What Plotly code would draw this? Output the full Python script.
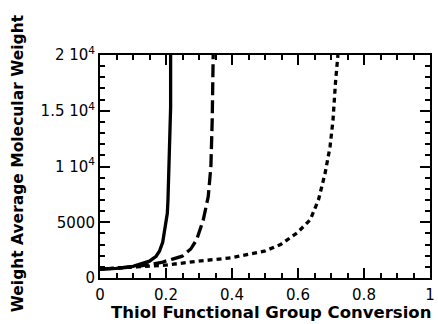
import plotly.graph_objects as go

solid_x = [0.0, 0.05, 0.1, 0.13, 0.15, 0.17, 0.18, 0.19, 0.199, 0.204, 0.206, 0.208, 0.209, 0.211, 0.214, 0.214]
solid_y = [800, 860, 1050, 1300, 1510, 1950, 2400, 3200, 4630, 5800, 7000, 8700, 10560, 12800, 15300, 20000]

long_x = [0.0, 0.05, 0.1, 0.15, 0.19, 0.22, 0.249, 0.275, 0.293, 0.313, 0.328, 0.336, 0.340, 0.343]
long_y = [800, 860, 980, 1200, 1430, 1700, 1960, 2600, 3440, 5220, 7300, 9970, 14130, 20000]

short_x = [0.0, 0.1, 0.199, 0.299, 0.397, 0.498, 0.547, 0.597, 0.637, 0.662, 0.682, 0.697, 0.706, 0.714, 0.721]
short_y = [800, 1000, 1160, 1510, 1810, 2400, 3000, 4040, 5220, 7000, 9380, 11750, 14130, 17700, 20000]

y_tickvals = [0, 5000, 10000, 15000, 20000]
y_ticktext = ["0", "5000", "1 10<sup>4</sup>", "1.5 10<sup>4</sup>", "2 10<sup>4</sup>"]
x_tickvals = [0, 0.2, 0.4, 0.6, 0.8, 1.0]
x_ticktext = ["0", "0.2", "0.4", "0.6", "0.8", "1"]
x_title = "Thiol Functional Group Conversion"
y_title = "Weight Average Molecular Weight"

fig = go.Figure()
fig.add_trace(go.Scatter(x=solid_x, y=solid_y, mode="lines",
                         line=dict(color="black", width=3.3, dash="solid")))
fig.add_trace(go.Scatter(x=long_x, y=long_y, mode="lines",
                         line=dict(color="black", width=3.3, dash="13px,5px")))
fig.add_trace(go.Scatter(x=short_x, y=short_y, mode="lines",
                         line=dict(color="black", width=3.3, dash="5px,4px")))

font = "DejaVu Sans, Arial, sans-serif"
W, H = 438, 324
L, R, T, B = 100, 3, 55, 46
pw, ph = W - L - R, H - T - B

fig.update_layout(
    width=W, height=H,
    margin=dict(l=L, r=R, t=T, b=B),
    plot_bgcolor="white", paper_bgcolor="white",
    showlegend=False,
    font=dict(family=font, size=15, color="black"),
    xaxis=dict(range=[0, 1], tickvals=x_tickvals, ticktext=x_ticktext,
               ticks="inside", ticklen=10, tickwidth=1.7, tickcolor="black",
               showline=True, linewidth=2, linecolor="black", mirror="allticks",
               showgrid=False, zeroline=False, ticklabelstandoff=2,
               ticklabeloverflow="allow",
               minor=dict(ticks="inside", ticklen=5, tickwidth=1.7, tickcolor="black", dtick=0.05)),
    yaxis=dict(range=[0, 20000], tickvals=y_tickvals, ticktext=y_ticktext,
               ticks="inside", ticklen=10, tickwidth=1.7, tickcolor="black",
               showline=True, linewidth=2, linecolor="black", mirror="allticks",
               showgrid=False, zeroline=False, ticklabeloverflow="allow",
               minor=dict(ticks="inside", ticklen=5, tickwidth=1.7, tickcolor="black", dtick=1000)),
    annotations=[
        dict(text="<b>" + x_title + "</b>", xref="paper", yref="paper",
             x=(273.5 - L) / pw, y=-(312 - (T + ph)) / ph, xanchor="center", yanchor="middle",
             showarrow=False, font=dict(size=16.5, family=font)),
        dict(text="<b>" + y_title + "</b>", xref="paper", yref="paper",
             x=-(L - 17) / pw, y=1 - (163 - T) / ph, xanchor="center", yanchor="middle",
             textangle=-90, showarrow=False, font=dict(size=15.5, family=font)),
    ],
)
fig.write_html("out.html")
